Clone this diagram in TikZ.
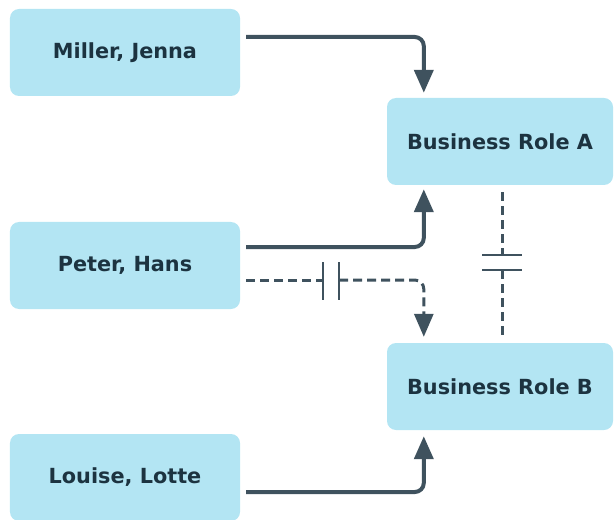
\documentclass[tikz,border=0pt]{standalone}
\usepackage{fontspec}
\setmainfont{DejaVu Sans}
\usetikzlibrary{calc,arrows.meta}
\definecolor{boxfill}{HTML}{B3E5F3}
\definecolor{linec}{HTML}{3F525E}
\definecolor{textc}{HTML}{1C3340}
\tikzset{
  box/.style={rectangle, rounded corners=9bp, fill=boxfill, draw=none,
    minimum width=230bp, minimum height=87bp, inner sep=0pt,
    text=textc, font=\fontsize{20.8bp}{25bp}\selectfont\bfseries},
  rolebox/.style={box, minimum width=226bp},
  conn/.style={draw=linec, line width=4bp, rounded corners=9bp,
    -{Triangle[width=19bp,length=23bp]}},
  dashconn/.style={draw=linec, line width=3bp, rounded corners=9bp,
    dash pattern=on 9bp off 5bp},
  dashtip/.style={-{Triangle[width=19bp,length=23bp]}},
  breakbar/.style={draw=linec, line width=2.4bp}
}
\begin{document}
\begin{tikzpicture}[x=1bp,y=-1bp]
\useasboundingbox (0,0) rectangle (614,520);
\node[box] (m) at (125,52.5) {Miller, Jenna};
\node[box] (p) at (125,265.5) {Peter, Hans};
\node[box] (l) at (125,477.5) {Louise, Lotte};
\node[rolebox] (a) at (500,141.5) {Business Role A};
\node[rolebox] (b) at (500,386.5) {Business Role B};
% solid connectors
\draw[conn] ($(m.east)+(6,-15.5)$) -| ($(a.north west)+(37,-5)$);
\draw[conn] ($(p.east)+(6,-18.5)$) -| ($(a.south west)+(37,4)$);
\draw[conn] ($(l.east)+(6,14.5)$) -| ($(b.south west)+(37,6)$);
% dashed Peter -> B with break
\coordinate (hs) at ($(p.east)+(6,14.5)$);
\coordinate (hb1) at ($(hs)+(77,0)$);
\coordinate (hb2) at ($(hs)+(93,0)$);
\draw[dashconn] (hs) -- (hb1);
\draw[dashconn,dashtip] (hb2) -| ($(b.north west)+(37,-6)$);
\draw[breakbar] ($(hb1)+(0,-18)$) -- ($(hb1)+(0,20)$);
\draw[breakbar] ($(hb2)+(0,-18)$) -- ($(hb2)+(0,20)$);
% dashed A -- B with break
\coordinate (vs) at ($(a.south)+(2,7)$);
\coordinate (vb1) at ($(a.south)+(2,70)$);
\coordinate (vb2) at ($(a.south)+(2,85)$);
\coordinate (ve) at ($(b.north)+(2,-6)$);
\draw[dashconn] (vs) -- (vb1);
\draw[dashconn] (vb2) -- (ve);
\draw[breakbar] ($(vb1)+(-20,0)$) -- ($(vb1)+(20,0)$);
\draw[breakbar] ($(vb2)+(-20,0)$) -- ($(vb2)+(20,0)$);
\end{tikzpicture}
\end{document}
